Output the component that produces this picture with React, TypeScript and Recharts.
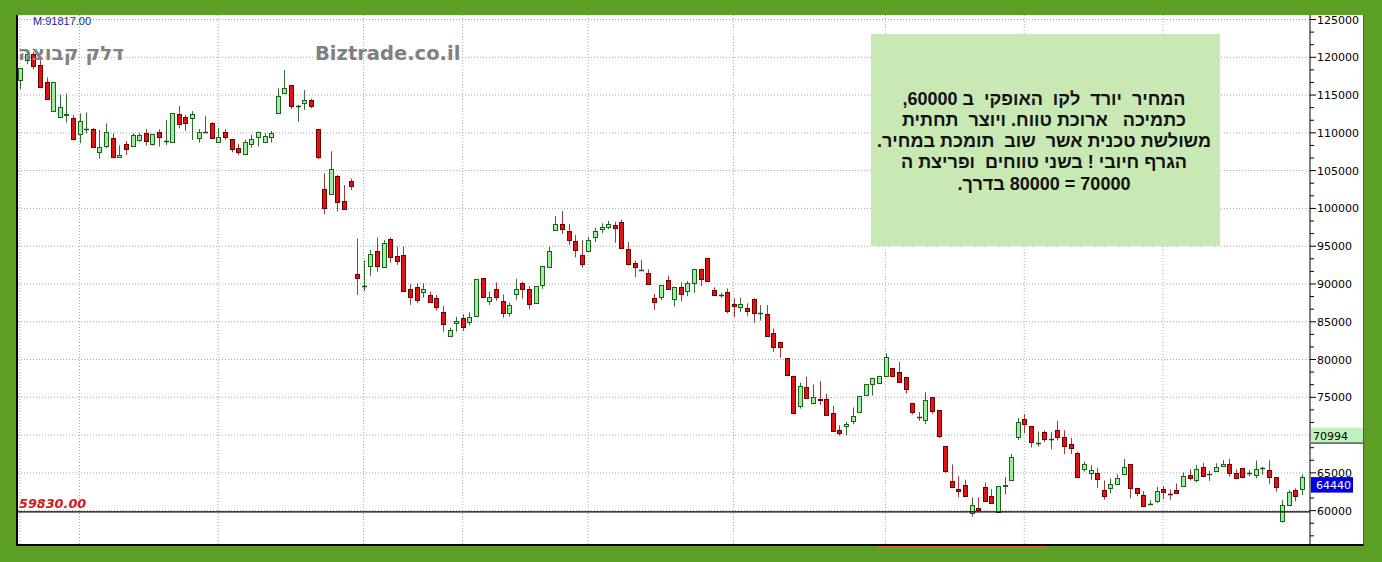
import React from 'react';
import { BarChart, Bar, XAxis, YAxis, CartesianGrid, ReferenceLine } from 'recharts';

const openVals = [116990,119600,120500,118990,116680,112940,112060,112410,111920,109800,110500,110500,107510,108320,109280,106760,108530,108320,109070,109950,108500,110150,108970,108840,112460,112050,111920,109290,110150,111260,108840,110080,109190,108040,107220,108540,109420,108760,109500,112680,115320,116290,113560,113910,114350,110460,102520,101870,104320,100980,103620,91270,89770,92430,94360,92300,95900,93740,93780,89380,89560,88940,88540,88100,86240,83120,84790,85450,85010,85710,90740,87790,89370,87740,86120,88640,90090,89360,87450,89830,92210,97140,97930,97000,95690,93790,94400,96170,97230,97580,97800,98230,94580,92730,91850,91400,88190,88330,90520,88010,89650,89080,90090,92010,93390,89200,88540,88880,87350,87000,86780,88000,86100,86020,83460,82360,80170,77860,73900,76400,74310,74820,74740,72880,70660,71250,71900,73020,75300,76720,76940,77860,78910,78390,77640,74290,72430,71990,75000,73320,68560,63920,62820,63450,59660,60400,63070,61930,59870,63300,64050,69790,72080,71190,69010,70400,69440,70660,69790,68780,67570,65520,64940,64940,62720,62960,63480,64810,66150,63040,62070,60880,61270,62850,62260,62720,63300,64710,64000,65730,64840,65280,65940,66160,64940,65590,64940,64720,65590,65370,64400,58680,60750,62720,62870];
const highVals = [118600,120700,120700,119600,117340,116760,115090,115220,112350,112580,112700,110650,110370,111260,109940,108340,108920,109950,109980,110510,109820,110470,111700,112580,113550,112350,112880,110510,112220,111390,110650,110510,109190,108570,109100,109770,110150,109950,110250,115890,118310,116290,113690,115660,114520,110460,104620,107570,104410,103080,103970,96010,93150,94490,96160,95810,96160,94930,94960,89960,90090,90090,88980,88540,87100,84220,85660,86010,86240,90600,90740,88980,90220,88620,87520,90660,90310,89730,89730,92410,94930,98990,99640,97920,96480,95810,96250,97440,98020,98360,98240,98530,95590,93080,93170,91930,88670,89870,91100,89640,90220,90400,92010,92010,93390,89550,88850,89410,88100,88180,87440,88100,87200,87210,84110,82360,80170,77870,76930,77720,76710,77160,75480,73890,71310,71780,73660,75170,76710,77590,77850,80820,78910,79700,77640,74290,73050,75670,75000,73320,68560,66110,64570,64090,61760,61760,63730,62860,63270,64460,67510,72290,72780,71190,70450,70620,70450,71900,70660,69650,67780,66470,66030,65630,63990,64270,64790,66830,66150,63040,62590,61390,63160,63250,62810,63600,65050,65490,66060,66300,65270,66260,66690,66830,65460,65650,65370,66640,65810,66640,64400,61410,62720,62950,64800];
const lowVals = [115790,119100,118400,116040,114480,112800,111930,111350,108980,108630,109950,108100,106590,107970,106650,106760,107080,108320,108840,108320,108320,108190,108400,108840,110600,110250,109070,108700,109950,109290,108840,109110,107430,107080,107220,108050,108190,108760,108710,112680,115320,113150,111490,113030,113250,106510,99230,101870,99580,99890,102440,88550,89080,91110,91640,92300,92820,92520,89130,87230,87460,88200,87580,86480,83690,83120,83690,83780,84530,85710,88230,87220,87790,85540,85670,87890,88070,86660,87450,89340,92210,97050,96620,95160,93540,92170,94230,95540,96710,97270,95470,94720,92440,90890,91800,89960,86570,87890,89300,87010,87670,88380,88810,89740,90400,88540,88190,86120,85590,86300,85810,84890,85140,83120,81010,80220,77960,72900,73510,74860,74310,73990,72660,70590,69920,69930,71440,73020,75300,75230,76940,77860,77860,76990,75490,72720,71890,71470,72790,69580,64970,63170,61760,61990,59200,59920,61270,60970,59870,62160,64050,69350,70220,68350,68470,69050,68130,69310,67480,67470,64400,65160,64060,63000,61450,62290,63480,64810,61630,61900,60620,60750,61010,61560,61450,62370,63300,64000,63740,64500,63950,65280,65940,64500,64150,64380,64500,64280,64760,63520,62510,58410,60750,61230,62070];
const closeVals = [118590,120500,118850,116040,114530,116760,113380,112450,109160,111570,110500,108100,108090,110080,106780,107060,107910,109720,109720,108970,109820,109420,108970,112580,111140,111260,112450,110080,110150,109370,109500,109500,107870,107510,108750,109200,110150,109590,109950,114880,115900,113600,113560,114350,113560,106850,100020,105200,100900,99890,103000,90740,89770,93960,92430,95460,93620,93090,89130,88330,87890,89370,87580,86990,84660,83900,85100,84350,85660,90600,88230,88320,88320,86120,87210,89370,89300,87320,89730,92410,94360,97930,97270,95820,94500,92650,95810,97050,97580,97970,97360,94720,92610,92200,91850,89960,87660,89870,89300,89640,88640,90090,92010,90700,90400,88540,88540,86480,87090,87350,86470,86120,86200,83120,81620,81620,77960,72900,76490,74860,75080,74650,72660,70590,70310,71470,72520,75170,76710,77590,77850,80380,77860,76990,76060,73090,72430,74640,73190,69890,65240,63170,62650,61990,60750,60140,61270,60970,63270,63350,67120,71680,71420,69050,69010,69440,69440,69700,68610,68340,64490,66120,65370,64150,61980,63520,64350,65730,62960,62290,60660,60880,62590,62420,62210,62370,64620,64270,65530,64630,64840,65730,66160,64940,64360,64410,64940,65460,65590,64410,63170,60750,62420,61980,64440];

const priceTicks = [60000,65000,70000,75000,80000,85000,90000,95000,100000,105000,110000,115000,120000,125000];
const gridCandles = [0, 9, 30, 52, 67, 86, 108, 131, 152, 173];
const supportLevel = 59830;
const supportLabel = '59830.00';
const markerLevel = 70994;
const lastClose = 64440;
const maxLabel = 'M:91817.00';
const titleText = 'דלק קבוצה';
const siteText = 'Biztrade.co.il';
const noteLines = [
  'המחיר  יורד  לקו  האופקי  ב 60000,',
  'כתמיכה   ארוכת טווח. ויוצר  תחתית',
  'משולשת טכנית אשר  שוב  תומכת במחיר.',
  'הגרף חיובי ! בשני טווחים  ופריצת ה',
  '70000 = 80000 בדרך.',
];

const data = openVals.map((o, i) => ({
  i,
  o,
  h: highVals[i],
  l: lowVals[i],
  c: closeVals[i],
  range: [lowVals[i], highVals[i]],
}));

const minorTicks: number[] = [];
[priceTicks[0] - 5000, ...priceTicks.slice(0, -1)].forEach((v) => {
  minorTicks.push(v + 5000 / 3, v + 10000 / 3);
});
const allTicks = [...priceTicks, ...minorTicks].sort((a, b) => a - b);
const boxLevels = [markerLevel, lastClose];

const GREEN = '#5b9f25';

const Candle = (props: any) => {
  const { x, y, width, height, payload } = props;
  if (!payload || x == null || y == null) return null;
  const { o, h, l, c } = payload;
  const cx = Math.round(x + width / 2);
  const span = h - l || 1;
  const py = (v: number) => y + ((h - v) / span) * height;
  const up = c >= o;
  const top = Math.round(py(Math.max(o, c)));
  const bot = Math.round(py(Math.min(o, c)));
  const doji = bot - top < 1;
  const wick = up ? '#2f6f2f' : '#9c3b3b';
  return (
    <g>
      <line x1={cx + 0.5} x2={cx + 0.5} y1={py(h)} y2={py(l)} stroke={wick} strokeWidth={1} />
      {doji ? (
        <line x1={cx - 2} x2={cx + 3} y1={top + 0.5} y2={top + 0.5} stroke={up ? '#1d4d1d' : '#5a1010'} strokeWidth={1.5} />
      ) : (
        <rect
          x={cx - 1.5}
          y={top + 0.5}
          width={4}
          height={bot - top}
          fill={up ? '#98f298' : '#e21313'}
          stroke={up ? '#1f5f1f' : '#700000'}
          strokeWidth={1}
        />
      )}
    </g>
  );
};

const PriceTick = (props: any) => {
  const { x, y, payload } = props;
  const v = payload.value;
  const covered = boxLevels.some((lv) => v < lv && v > lv - 2050);
  if (covered) return <g />;
  const major = priceTicks.includes(v);
  return (
    <g>
      <line x1={x} x2={x + (major ? 6 : 4)} y1={y} y2={y} stroke="#000" strokeWidth={1} />
      {major && (
        <text x={x + 7} y={y + 4} fontSize={11} fontFamily="DejaVu Sans" fill="#000">
          {v}
        </text>
      )}
    </g>
  );
};

const SupportLabel = (props: any) => {
  const vb = props.viewBox || {};
  return (
    <text
      x={(vb.x || 0) + 1}
      y={(vb.y || 0) - 4}
      fontSize={12.8}
      fontFamily="DejaVu Sans"
      fontWeight="bold"
      fontStyle="italic"
      fill="#d11a1a"
    >
      {supportLabel}
    </text>
  );
};

const MarkerBox = (props: any) => {
  const vb = props.viewBox || {};
  const rx = (vb.x || 0) + (vb.width || 0) + 1;
  const ry = vb.y || 0;
  return (
    <g>
      <rect x={rx} y={ry} width={52} height={15} fill="#bff3bb" />
      <line x1={rx} x2={rx + 52} y1={ry + 15.5} y2={ry + 15.5} stroke="#000" strokeWidth={1} />
      <text x={rx + 2} y={ry + 12} fontSize={11} fontFamily="DejaVu Sans" fill="#000">
        {markerLevel}
      </text>
    </g>
  );
};

const LastBox = (props: any) => {
  const vb = props.viewBox || {};
  const rx = (vb.x || 0) + (vb.width || 0) + 1;
  const ry = vb.y || 0;
  return (
    <g>
      <rect x={rx} y={ry} width={42} height={15.5} fill="#0000e6" />
      <text x={rx + 5} y={ry + 12} fontSize={11} fontFamily="DejaVu Sans" fill="#fff">
        {lastClose}
      </text>
    </g>
  );
};

export default function App() {
  return (
    <div style={{ position: 'absolute', left: 0, top: 0, width: 1382, height: 562, background: GREEN, overflow: 'hidden' }}>
      <div
        style={{
          position: 'absolute',
          left: 16,
          top: 15,
          width: 1348,
          height: 531,
          background: '#fff',
          borderLeft: '2px solid #000',
          borderBottom: '2px solid #000',
          borderRight: '1px solid #555',
          boxSizing: 'border-box',
        }}
      />
      <div style={{ position: 'absolute', left: 878, top: 546, width: 170, height: 2, background: '#e4602c' }} />
      <div style={{ position: 'absolute', left: 0, top: 0 }}>
        <BarChart width={1382} height={562} data={data} margin={{ top: 15, right: 18, bottom: 18, left: 18 }}>
          <CartesianGrid
            horizontalValues={priceTicks}
            verticalValues={gridCandles}
            stroke="#a8a8a8"
            strokeDasharray="1 2"
          />
          <XAxis type="number" dataKey="i" domain={[-0.3027, 195.25]} allowDataOverflow hide />
          <YAxis
            orientation="right"
            type="number"
            width={54}
            domain={[55585, 125598]}
            allowDataOverflow
            ticks={allTicks}
            interval={0}
            tick={<PriceTick />}
            tickLine={false}
            tickSize={0}
            tickMargin={0}
            axisLine={{ stroke: '#000' }}
          />
          <ReferenceLine y={supportLevel} stroke="#000" strokeWidth={1.3} label={<SupportLabel />} />
          <ReferenceLine y={markerLevel} stroke="none" label={<MarkerBox />} />
          <ReferenceLine y={lastClose} stroke="none" label={<LastBox />} />
          <Bar dataKey="range" barSize={5} isAnimationActive={false} shape={(p: any) => <Candle {...p} />} />
        </BarChart>
      </div>
      <svg width={1382} height={562} style={{ position: 'absolute', left: 0, top: 0, pointerEvents: 'none' }}>
        <rect x={871} y={34} width={349} height={212} fill="#c8e8b4" />
        {noteLines.map((t, k) => (
          <text
            key={k}
            x={1044}
            y={104.5 + k * 21.3}
            textAnchor="middle"
            direction="rtl"
            fontSize={18}
            fontWeight="bold"
            fontFamily="'Liberation Sans', Arial, sans-serif"
            fill="#111"
            style={{ whiteSpace: 'pre' }}
          >
            {t}
          </text>
        ))}
        <text x={33} y={25} fontSize={11} fontFamily="'Liberation Sans', Arial, sans-serif" fill="#1b1ba0">
          {maxLabel}
        </text>
        <text x={71} y={60} textAnchor="middle" direction="rtl" fontSize={20} fontWeight="bold" fontFamily="'DejaVu Sans', sans-serif" fill="#828282">
          {titleText}
        </text>
        <text x={315} y={60} fontSize={19.5} fontWeight="bold" fontFamily="'DejaVu Sans', sans-serif" fill="#808080">
          {siteText}
        </text>
      </svg>
    </div>
  );
}
